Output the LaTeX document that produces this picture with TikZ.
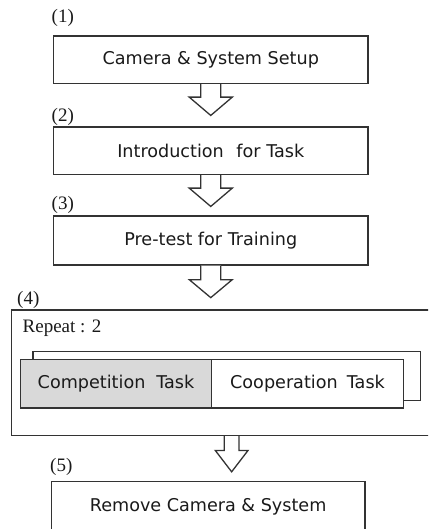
\documentclass[tikz,border=0pt]{standalone}
\usepackage{fontspec}
\setmainfont{Liberation Serif}
\newfontfamily\boxfont{DejaVu Sans}
\usetikzlibrary{calc}
\definecolor{linec}{HTML}{333333}
\definecolor{textc}{HTML}{1A1A1A}
\definecolor{grayfill}{HTML}{D9D9D9}
\tikzset{
  box/.style={draw=linec, line width=1.3pt, fill=white, inner sep=0pt,
    font=\boxfont\fontsize{17.6}{20}\selectfont, text=textc},
  steplabel/.style={font=\fontsize{19}{21}\selectfont, inner sep=0pt, anchor=west, text=textc},
  blockarrow/.style={draw=linec, line width=1.3pt, fill=white, line join=miter},
}
% #1 from node, #2 shaft half width, #3 shaft length, #4 head half width, #5 head length, #6 x shift
\newcommand\hollowarrow[6]{%
  \draw[blockarrow] let \p1=($(#1.south)+(#6,0)$) in
    (\x1-#2pt,\y1) -- (\x1-#2pt,\y1-#3pt) -- (\x1-#4pt,\y1-#3pt)
    -- (\x1,\y1-#3pt-#5pt) -- (\x1+#4pt,\y1-#3pt) -- (\x1+#2pt,\y1-#3pt)
    -- (\x1+#2pt,\y1);
}
\begin{document}
\begin{tikzpicture}[x=1pt,y=-1pt]
\useasboundingbox (0,0) rectangle (428,529);
\clip (0,0) rectangle (428,529);
\fill[white] (0,0) rectangle (428,529);

% step 1
\node[steplabel] (l1) at (51.5,18) {(1)};
\node[box, minimum width=314.5pt, minimum height=47.5pt] (b1) at (210.75,59.75) {Camera \& System Setup};
% step 2
\node[steplabel] (l2) at (51.5,116.5) {(2)};
\node[box, minimum width=314.5pt, minimum height=47.5pt] (b2) at (210.75,150.75) {Introduction\hspace{0.4em} for Task};
% step 3
\node[steplabel] (l3) at (51.5,204.5) {(3)};
\node[box, minimum width=314.5pt, minimum height=49pt] (b3) at (210.75,240.5) {Pre-test for Training};
% step 4
\node[steplabel] (l4) at (17,299.5) {(4)};
\node[box, anchor=north west, minimum width=440pt, minimum height=125.5pt] (b4) at (11,309.3) {};
\node[steplabel] (rep) at (22.5,328) {Repeat : 2};
\node[box, anchor=north west, minimum width=387.4pt, minimum height=49.3pt] (back) at (32.3,350.7) {};
\node[box, fill=grayfill, anchor=north west, minimum width=190.7pt, minimum height=48.3pt] (comp) at (20,359) {Competition\hspace{0.3em} Task};
\node[box, anchor=north west, minimum width=192.3pt, minimum height=48.3pt] (coop) at (210.7,359) {Cooperation\hspace{0.2em} Task};
% step 5
\node[steplabel] (l5) at (50,467) {(5)};
\node[box, anchor=north west, minimum width=313.6pt, minimum height=50pt] (b5) at (50.7,481) {Remove Camera \& System};

% arrows
\hollowarrow{b1}{10}{13}{21.5}{18.3}{0}
\hollowarrow{b2}{10}{13}{21.5}{18.3}{0}
\hollowarrow{b3}{10}{14}{21.5}{18}{0}
\hollowarrow{b4}{7.4}{14.3}{16.4}{21.4}{0}
\end{tikzpicture}
\end{document}
